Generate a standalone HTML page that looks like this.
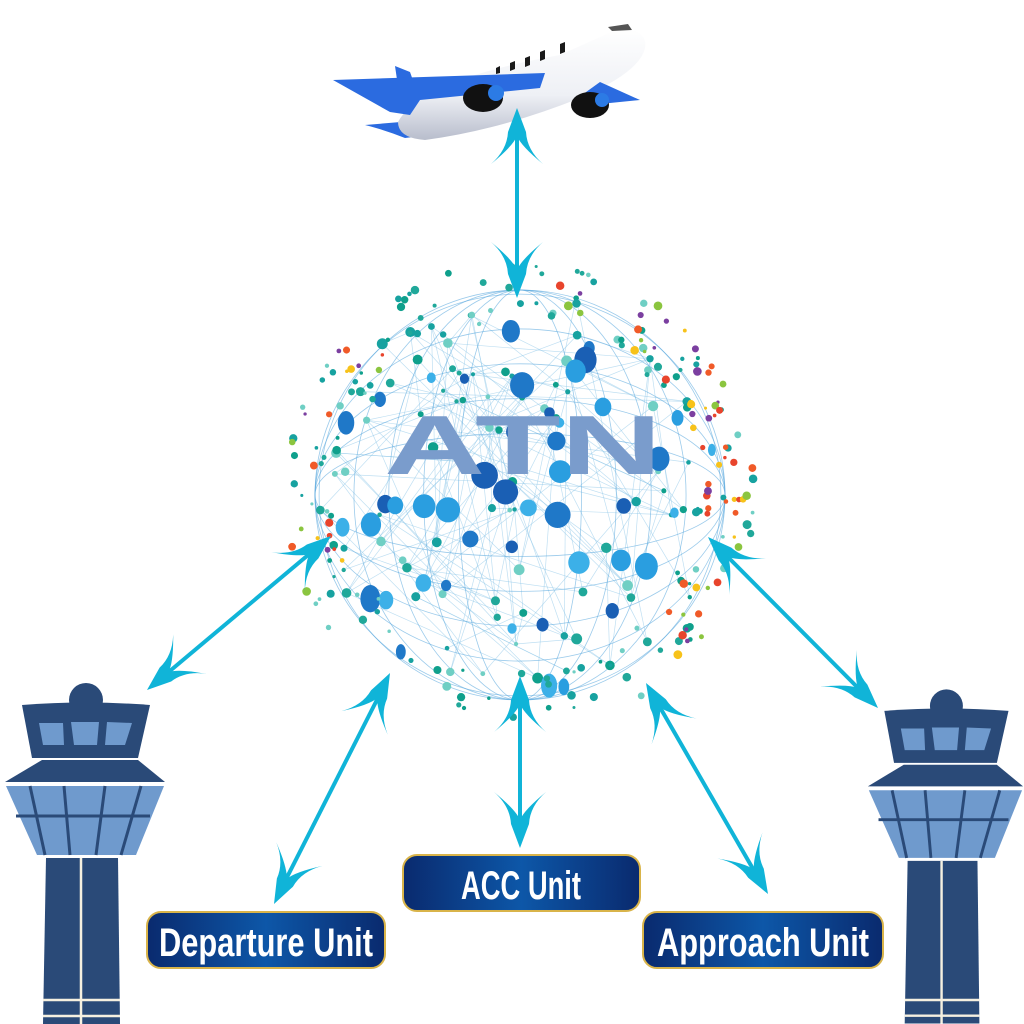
<!DOCTYPE html>
<html><head><meta charset="utf-8"><style>
html,body{margin:0;padding:0;background:#fff;width:1024px;height:1024px;overflow:hidden}
svg{display:block}
</style></head><body>
<svg id="s" width="1024" height="1024" viewBox="0 0 1024 1024" xmlns="http://www.w3.org/2000/svg">
<defs>
<linearGradient id="lab" x1="0" y1="0" x2="1" y2="0">
<stop offset="0" stop-color="#0a2a6e"/><stop offset="0.5" stop-color="#0d57a8"/><stop offset="1" stop-color="#0a2a6e"/>
</linearGradient>
<linearGradient id="body" x1="0" y1="0" x2="0" y2="1">
<stop offset="0" stop-color="#ffffff"/><stop offset="0.6" stop-color="#eef0f5"/><stop offset="1" stop-color="#b8bdcc"/>
</linearGradient>
<g id="tower">
<circle cx="86" cy="700" r="17" fill="#2a4a78"/>
<path d="M22 705 Q86 700 150 705 L138 758 L32 758 Z" fill="#2a4a78"/>
<path d="M39 723 L63 723 L64 745 L43 745 Z M71 722 L99 722 L97 745 L74 745 Z M107 722 L132 723 L125 745 L105 745 Z" fill="#6f9acd"/>
<path d="M42 760 L138 760 L165 782 L5 782 Z" fill="#2a4a78"/>
<path d="M6 786 L164 786 L136 855 L37 855 Z" fill="#6f9acd"/>
<path d="M16 816 L150 816 M30 786 L45 855 M64 786 L70 855 M105 786 L96 855 M141 786 L121 855" stroke="#2a4a78" stroke-width="3" fill="none"/>
<path d="M46 858 L118 858 L120 1024 L43 1024 Z" fill="#2a4a78"/>
<path d="M81 858 L81 1024 M43 1000 L120 1000 M43 1016 L120 1016" stroke="#f5f0e0" stroke-width="2.5"/>
</g>
<g id="ah"><path d="M0 0 L-9 24 Q-10 42 -26 56 Q-4 38 0 28 Q4 38 26 56 Q10 42 9 24 Z" fill="#10b4d8"/></g>
</defs>
<g id="dots"></g>
<text x="384" y="474" font-family="Liberation Sans" font-weight="bold" font-size="84" fill="#7a9ccc" textLength="278" lengthAdjust="spacingAndGlyphs">ATN</text>

<!-- airplane -->
<g>
<path d="M365 125 Q385 130 405 138 L445 133 L425 120 Z" fill="#2b6be0"/>
<path d="M395 66 L410 72 L420 100 L400 100 Z" fill="#2b6be0"/>
<path d="M398 122 Q420 80 560 55 L620 28 Q648 30 645 48 Q640 72 580 98 Q500 130 425 140 Q398 138 398 122 Z" fill="url(#body)"/>
<path d="M333 80 L545 73 L540 88 L420 100 L410 115 L390 112 Z" fill="#2b6be0"/>
<path d="M575 100 L600 82 L640 100 L600 104 Z" fill="#2b6be0"/>
<ellipse cx="483" cy="98" rx="20" ry="14" fill="#111"/>
<circle cx="496" cy="93" r="8" fill="#2c7be5"/>
<ellipse cx="590" cy="105" rx="19" ry="13" fill="#111"/>
<circle cx="602" cy="100" r="7" fill="#2c7be5"/>
<path d="M496 68 l4 -2 l0 7 l-4 1z M510 63 l5 -2 l0 8 l-5 2z M525 58 l5 -2 l0 9 l-5 2z M540 52 l5 -2 l0 9 l-5 2z M560 44 l5 -2 l0 10 l-5 2z" fill="#1a1a1a"/>
<path d="M608 27 L628 24 L632 30 L612 31 Z" fill="#555"/>
</g>

<!-- arrows -->
<g stroke="#10b4d8" stroke-width="4" fill="none">
<line x1="517" y1="115" x2="517" y2="292"/>
<line x1="326" y1="540" x2="152" y2="686"/>
<line x1="387" y1="680" x2="277" y2="897"/>
<line x1="520" y1="683" x2="520" y2="842"/>
<line x1="650" y1="690" x2="764" y2="888"/>
<line x1="713" y1="542" x2="873" y2="703"/>
</g>
<use href="#ah" transform="translate(517,108)"/>
<use href="#ah" transform="translate(517,298) rotate(180)"/>
<use href="#ah" transform="translate(331,536) rotate(50)"/>
<use href="#ah" transform="translate(147,690) rotate(230)"/>
<use href="#ah" transform="translate(390,673) rotate(27)"/>
<use href="#ah" transform="translate(274,904) rotate(207)"/>
<use href="#ah" transform="translate(520,676) rotate(0)"/>
<use href="#ah" transform="translate(520,848) rotate(180)"/>
<use href="#ah" transform="translate(646,683) rotate(-30)"/>
<use href="#ah" transform="translate(768,894) rotate(150)"/>
<use href="#ah" transform="translate(708,537) rotate(-45)"/>
<use href="#ah" transform="translate(878,708) rotate(135)"/>

<use href="#tower"/>
<use href="#tower" transform="translate(863,20) scale(0.97 0.98)"/>

<!-- labels -->
<g font-family="Liberation Sans, sans-serif" font-weight="bold" fill="#fff" font-size="40">
<rect x="147" y="912" width="238" height="56" rx="14" fill="url(#lab)" stroke="#d9b44a" stroke-width="2"/>
<text x="266" y="956" text-anchor="middle" textLength="214" lengthAdjust="spacingAndGlyphs">Departure Unit</text>
<rect x="403" y="855" width="237" height="56" rx="14" fill="url(#lab)" stroke="#d9b44a" stroke-width="2"/>
<text x="521" y="899" text-anchor="middle" textLength="120" lengthAdjust="spacingAndGlyphs">ACC Unit</text>
<rect x="643" y="912" width="240" height="56" rx="14" fill="url(#lab)" stroke="#d9b44a" stroke-width="2"/>
<text x="763" y="956" text-anchor="middle" textLength="212" lengthAdjust="spacingAndGlyphs">Approach Unit</text>
</g>
</svg>
<script>
(function(){
var s=12345;function r(){s=(s*1103515245+12345)%2147483648;return s/2147483648;}
var cx=520,cy=495,R=205,ns="http://www.w3.org/2000/svg",g=document.getElementById('dots');
var pts=[];
for(var i=0;i<80;i++){var a=r()*6.283,d=Math.sqrt(r())*R;pts.push([cx+Math.cos(a)*d,cy+Math.sin(a)*d]);}
for(var i=0;i<130;i++){var j=i%pts.length,k=Math.floor(r()*pts.length);
var l=document.createElementNS(ns,'line');l.setAttribute('x1',pts[j][0]);l.setAttribute('y1',pts[j][1]);
l.setAttribute('x2',pts[k][0]);l.setAttribute('y2',pts[k][1]);l.setAttribute('stroke','#8cc6e8');l.setAttribute('stroke-width','0.7');l.setAttribute('opacity','0.55');g.appendChild(l);}
for(var t=0;t<5;t++){var e=document.createElementNS(ns,'ellipse');e.setAttribute('cx',cx);e.setAttribute('cy',cy);e.setAttribute('rx',R*(0.3+t*0.17));e.setAttribute('ry',R);e.setAttribute('fill','none');e.setAttribute('stroke','#5aa8de');e.setAttribute('stroke-width','0.8');e.setAttribute('opacity','0.6');g.appendChild(e);
var e2=document.createElementNS(ns,'ellipse');e2.setAttribute('cx',cx);e2.setAttribute('cy',cy);e2.setAttribute('rx',R);e2.setAttribute('ry',R*(0.3+t*0.17));e2.setAttribute('fill','none');e2.setAttribute('stroke','#5aa8de');e2.setAttribute('stroke-width','0.8');e2.setAttribute('opacity','0.6');g.appendChild(e2);}
var blues=['#1f78c8','#2a9ee0','#1a5fb4','#3cb0e8'],teal=['#20a89a','#17a2a0','#6fcfc4','#0fa08c'],warm=['#f05a28','#f7c21a','#e8442c','#8bc53f','#7b3fa0'];
function c(x,y,rx,ry,col){var k=document.createElementNS(ns,'ellipse');k.setAttribute('cx',x);k.setAttribute('cy',y);k.setAttribute('rx',rx);k.setAttribute('ry',ry);k.setAttribute('fill',col);g.appendChild(k);}
for(var i=0;i<pts.length;i++){var q=2+r()*3.5;c(pts[i][0],pts[i][1],q,q,teal[i%4]);}
for(var i=0;i<45;i++){var a=r()*6.283,d=Math.sqrt(r())*R*0.98,q=5+r()*9,f=0.5+0.5*Math.sqrt(1-Math.pow(d/R,2));c(cx+Math.cos(a)*d,cy+Math.sin(a)*d,q*f,q,blues[i%4]);}
for(var i=0;i<130;i++){var a=r()*6.283,d=R*(0.85+r()*0.3),q=1.5+r()*3;c(cx+Math.cos(a)*d,cy+Math.sin(a)*d,q,q,teal[i%4]);}
for(var i=0;i<60;i++){var a=-1.4+r()*2.2,d=R*(0.9+r()*0.25),q=1.5+r()*3;c(cx+Math.cos(a)*d,cy+Math.sin(a)*d,q,q,warm[i%5]);}
for(var i=0;i<20;i++){var a=2.2+r()*1.8,d=R*(0.9+r()*0.25),q=1.5+r()*3;c(cx+Math.cos(a)*d,cy+Math.sin(a)*d,q,q,warm[(i+3)%5]);}
})();
</script>
</body></html>
